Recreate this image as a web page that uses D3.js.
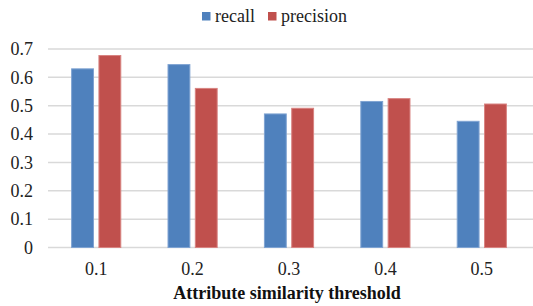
<!DOCTYPE html>
<html>
<head>
<meta charset="utf-8">
<script src="https://cdn.jsdelivr.net/npm/d3@7"></script>
<style>
  body { margin: 0; background: #fff; }
</style>
</head>
<body>
<svg id="chart"></svg>
<script>
const thresholds = ['0.1', '0.2', '0.3', '0.4', '0.5']
const seriesNames = ['recall', 'precision']
const recall = [0.63, 0.645, 0.471, 0.515, 0.445]
const precision = [0.677, 0.561, 0.491, 0.525, 0.506]
const yTicks = [0, 0.1, 0.2, 0.3, 0.4, 0.5, 0.6, 0.7]
const colors = { recall: '#4f81bd', precision: '#c0504d' }
const strokes = { recall: '#7fa3d2', precision: '#d88381' }
const serif = "'Liberation Serif'"

const width = 533
const height = 306
const svg = d3.select('#chart').attr('width', width).attr('height', height)

const rows = thresholds.map((t, i) => ({ t, recall: recall[i], precision: precision[i] }))

const xScale = d3.scaleBand().domain(thresholds).range([48, 530]).paddingInner(0.49).paddingOuter(0.245)
const xSub = d3.scaleBand().domain(seriesNames).range([0, xScale.bandwidth()]).paddingInner(0.2)
const yScale = d3.scaleLinear().domain([0, 0.7]).range([247.5, 49])

// gridlines
svg.append('g')
  .attr('class', 'grid')
  .selectAll('line')
  .data(yTicks)
  .enter()
  .append('line')
  .attr('x1', 48)
  .attr('x2', 533)
  .attr('y1', d => yScale(d))
  .attr('y2', d => yScale(d))
  .attr('stroke', '#d9d9d9')
  .attr('stroke-width', 1.5)

// y axis labels
const yAxis = d3.axisLeft(yScale).tickValues(yTicks).tickFormat(d => d === 0 ? '0' : d3.format('.1f')(d)).tickSize(0).tickPadding(0)
const yg = svg.append('g').attr('transform', 'translate(33,0)').call(yAxis)
yg.select('.domain').remove()
yg.selectAll('text').style('font-family', serif).style('font-size', '18px').attr('fill', '#222')

// bars
const groups = svg.append('g')
  .selectAll('g')
  .data(rows)
  .enter()
  .append('g')
  .attr('transform', d => 'translate(' + xScale(d.t) + ',0)')

groups.selectAll('rect')
  .data(d => seriesNames.map(k => ({ key: k, value: d[k] })))
  .enter()
  .append('rect')
  .attr('x', d => xSub(d.key))
  .attr('width', xSub.bandwidth())
  .attr('y', d => yScale(d.value))
  .attr('height', d => yScale(0) - yScale(d.value))
  .attr('fill', d => colors[d.key])
  .attr('stroke', d => strokes[d.key])
  .attr('stroke-width', 1)

// x axis labels
const xAxis = d3.axisBottom(xScale).tickSize(0).tickPadding(0)
const xg = svg.append('g').attr('transform', 'translate(0,262)').call(xAxis)
xg.select('.domain').remove()
xg.selectAll('text').style('font-family', serif).style('font-size', '18px').attr('fill', '#222')

// axis title
svg.append('text')
  .attr('x', 287)
  .attr('y', 299)
  .attr('text-anchor', 'middle')
  .style('font-family', serif)
  .style('font-size', '18px')
  .style('font-weight', 'bold')
  .attr('fill', '#111')
  .text('Attribute similarity threshold')

// legend
const legendItems = [
  { key: 'recall', x: 202 },
  { key: 'precision', x: 268 }
]
const lg = svg.append('g')
lg.selectAll('rect')
  .data(legendItems)
  .enter()
  .append('rect')
  .attr('x', d => d.x)
  .attr('y', 12)
  .attr('width', 8.5)
  .attr('height', 8.5)
  .attr('fill', d => colors[d.key])
lg.selectAll('text')
  .data(legendItems)
  .enter()
  .append('text')
  .attr('x', d => d.x + 13)
  .attr('y', 21.5)
  .style('font-family', serif)
  .style('font-size', '18px')
  .attr('fill', '#222')
  .text(d => d.key)
</script>
</body>
</html>
